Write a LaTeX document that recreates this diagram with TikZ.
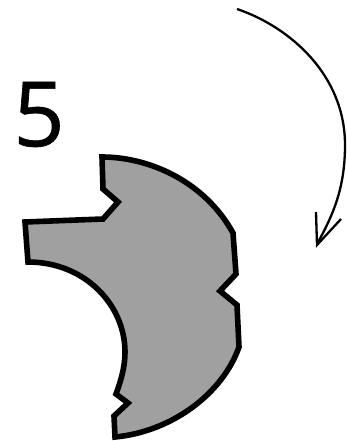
\documentclass[tikz,border=0pt]{standalone}
\usepackage{fontspec}
\setmainfont{Open Sans}
\newfontfamily\numeralfont[FakeBold=0.7]{Open Sans}
\definecolor{shapegray}{HTML}{A0A0A0}
\tikzset{
  blob/.style={draw=black,fill=shapegray,line width=5.6pt,line join=miter,miter limit=3},
  turnarrow/.style={draw=black,line width=2.3pt,line join=miter},
  numeral/.style={font=\numeralfont\fontsize{90pt}{90pt}\selectfont,inner sep=0pt,text=black}
}
\begin{document}
\begin{tikzpicture}[x=1pt,y=-1pt]
\useasboundingbox (0,0) rectangle (346,441);
\node[numeral] (five) at (39,114.5) {5};
\draw[blob] (102,157)
  .. controls (150,157) and (205,182) .. (233,233)
  -- (236,274) -- (220,291) -- (237,305) -- (239,347)
  .. controls (222,395) and (170,432) .. (115,437)
  -- (114,416) -- (128,403) -- (116,394)
  .. controls (122,378) and (125,365) .. (125,352)
  .. controls (125,305) and (85,262) .. (28,262)
  -- (25,222) -- (103,219) -- (118,202) -- (103,189) -- cycle;
\draw[turnarrow] (237,9)
  .. controls (290,27) and (345,75) .. (345,145)
  .. controls (345,185) and (335,212) .. (317,244);
\draw[turnarrow] (316,212) -- (317,245) -- (341,219);
\end{tikzpicture}
\end{document}
